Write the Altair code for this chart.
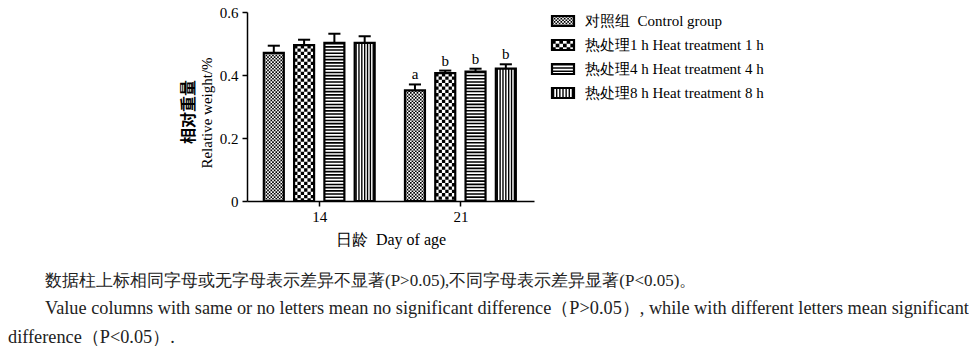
import altair as alt
import pandas as pd

# ---------------- data ----------------
days = ["14", "21"]
groups = [
    "对照组\u00a0 Control group",
    "热处理1 h Heat treatment 1 h",
    "热处理4 h Heat treatment 4 h",
    "热处理8 h Heat treatment 8 h",
]
patterns = ["fine", "checker", "hstripe", "vstripe"]
mean_14 = [0.470, 0.495, 0.502, 0.502]
mean_21 = [0.351, 0.406, 0.411, 0.420]
err_14 = [0.023, 0.017, 0.029, 0.021]
err_21 = [0.019, 0.008, 0.009, 0.014]
letters_14 = ["", "", "", ""]
letters_21 = ["a", "b", "b", "b"]
y_ticks = [0, 0.2, 0.4, 0.6]
y_title_cn = "相对重量"
y_title_en = "Relative weight/%"
x_title = "日龄\u00a0 Day of age"
caption_lines = [
    "数据柱上标相同字母或无字母表示差异不显著(P>0.05),不同字母表示差异显著(P<0.05)。",
    "Value columns with same or no letters mean no significant difference（P>0.05）, while with different letters mean significant",
    "difference（P<0.05）.",
]

# ---------------- layout parameters ----------------
W, H = 287, 189
GROUP_STEP = 4.66
HALF = 0.33
CAP = 0.2
XDOM = [-0.885, 8.59]
SX = W / (XDOM[1] - XDOM[0])
FONT = "Liberation Serif"

rows = []
for g, (day, means, errs, lets) in enumerate(
    zip(days, [mean_14, mean_21], [err_14, err_21], [letters_14, letters_21])
):
    for i, grp in enumerate(groups):
        pos = g * GROUP_STEP + i
        rows.append(dict(day=day, group=grp, pattern=patterns[i], pos=pos,
                         x0=pos - HALF, x1=pos + HALF,
                         c0=pos - CAP, c1=pos + CAP,
                         mean=means[i], top=means[i] + errs[i], zero=0.0,
                         letter=lets[i]))
bars = pd.DataFrame(rows)
centers = [g * GROUP_STEP + (len(groups) - 1) / 2 for g in range(len(days))]


def pattern_layers(rects, wpx, X, Y):
    """Vertical rules that fill each rectangle with its pattern."""
    layers = []
    specs = {"fine": 1.7, "checker": 3.4}
    for pat, cell in specs.items():
        n = max(1, round(wpx / cell))
        cpx = wpx / n
        for parity in (0, 1):
            recs = []
            for _, r in rects[rects.pattern == pat].iterrows():
                cw = (r.x1 - r.x0) / n
                for k in range(parity, n, 2):
                    recs.append(dict(x=r.x0 + (k + 0.5) * cw, ytop=r.ytop, ybot=r.ybot))
            if recs:
                layers.append(
                    alt.Chart(pd.DataFrame(recs)).mark_rule(
                        color="black", strokeWidth=cpx, strokeDash=[cpx, cpx],
                        strokeDashOffset=cpx * parity
                    ).encode(x=X("x"), y=Y("ytop"), y2=alt.Y2("ybot"))
                )
    # horizontal stripes
    recs = [dict(x=(r.x0 + r.x1) / 2, ytop=r.ytop, ybot=r.ybot)
            for _, r in rects[rects.pattern == "hstripe"].iterrows()]
    if recs:
        layers.append(
            alt.Chart(pd.DataFrame(recs)).mark_rule(
                color="black", strokeWidth=wpx, strokeDash=[1.6, 1.6]
            ).encode(x=X("x"), y=Y("ytop"), y2=alt.Y2("ybot"))
        )
    # vertical stripes
    n = max(1, round(wpx / 3.0))
    recs = []
    for _, r in rects[rects.pattern == "vstripe"].iterrows():
        cw = (r.x1 - r.x0) / n
        for k in range(n):
            recs.append(dict(x=r.x0 + (k + 0.5) * cw, ytop=r.ytop, ybot=r.ybot))
    if recs:
        layers.append(
            alt.Chart(pd.DataFrame(recs)).mark_rule(
                color="black", strokeWidth=1.4
            ).encode(x=X("x"), y=Y("ytop"), y2=alt.Y2("ybot"))
        )
    return layers


# ---------------- main chart ----------------
label_expr = " : ".join(
    [f"abs(datum.value - {c}) < 0.01 ? '{d}'" for c, d in zip(centers, days)]
) + " : ''"
axis_common = dict(domainColor="black", domainWidth=1.5, tickColor="black",
                   tickWidth=1.5, tickSize=5, labelColor="black", labelFont=FONT,
                   labelFontSize=15, grid=False, titleColor="black")
x_axis = alt.Axis(values=centers, labelExpr=label_expr, title=x_title,
                  labelPadding=3, titlePadding=7, titleFont=FONT,
                  titleFontSize=16, titleFontWeight="normal", **axis_common)
y_axis = alt.Axis(values=y_ticks, title=None, labelPadding=4,
                  labelExpr="datum.value == 0 ? '0' : format(datum.value, '.1f')",
                  **axis_common)
xs = alt.Scale(domain=XDOM, nice=False, zero=False)
ys = alt.Scale(domain=[0, 0.6], nice=False)


def MX(f):
    return alt.X(f"{f}:Q", scale=xs, axis=x_axis)


def MY(f):
    return alt.Y(f"{f}:Q", scale=ys, axis=y_axis)


base = alt.Chart(bars)
white = base.mark_rect(fill="white").encode(x=MX("x0"), x2="x1", y=MY("mean"), y2="zero")
prect = bars.assign(ytop=bars["mean"], ybot=0.0)
pats = pattern_layers(prect, 2 * HALF * SX, MX, MY)
outline = base.mark_rect(fillOpacity=0, stroke="black", strokeWidth=2.2).encode(
    x=MX("x0"), x2="x1", y=MY("mean"), y2="zero")
err = base.mark_rule(color="black", strokeWidth=2).encode(x=MX("pos"), y=MY("mean"), y2="top")
cap = base.mark_rule(color="black", strokeWidth=2).encode(x=MX("c0"), x2="c1", y=MY("top"))
letters = base.mark_text(font=FONT, fontSize=15, color="black", baseline="middle", dy=-10).encode(
    x=MX("pos"), y=MY("top"), text="letter:N")

ytitle_cn = alt.Chart(pd.DataFrame({"t": [y_title_cn]})).mark_text(
    font="Noto Sans CJK SC", fontSize=16, fontWeight="bold", angle=270,
    color="black", align="center", baseline="middle"
).encode(x=alt.value(-58), y=alt.value(100), text="t:N")
ytitle_en = alt.Chart(pd.DataFrame({"t": [y_title_en]})).mark_text(
    font="Liberation Serif", fontSize=15, angle=270,
    color="black", align="center", baseline="middle"
).encode(x=alt.value(-40), y=alt.value(101), text="t:N")

cap_pos = [(-202, 269), (-202, 297), (-239, 326)]
cap_size = [17, 18.3, 18.3]
caption_layers = [
    alt.Chart(pd.DataFrame({"t": [line]})).mark_text(
        font=FONT, fontSize=fs, color="#222222", align="left", baseline="middle"
    ).encode(x=alt.value(px), y=alt.value(py), text="t:N")
    for line, (px, py), fs in zip(caption_lines, cap_pos, cap_size)
]

main = alt.layer(white, *pats, outline, err, cap, letters,
                 ytitle_cn, ytitle_en, *caption_layers).properties(width=W, height=H)

# ---------------- legend ----------------
LW, LH = 230, 100
lrows = []
for r, (grp, pat) in enumerate(zip(groups, patterns)):
    yc = LH - (9 + 24 * r)
    lrows.append(dict(label=grp, pattern=pat, x0=0.0, x1=22.0, ytop=yc + 5,
                      ybot=yc - 5, yc=yc, tx=33.0))
leg = pd.DataFrame(lrows)
lxs = alt.Scale(domain=[0, LW], nice=False, zero=False)
lys = alt.Scale(domain=[0, LH], nice=False, zero=False)


def LX(f):
    return alt.X(f"{f}:Q", scale=lxs, axis=None)


def LY(f):
    return alt.Y(f"{f}:Q", scale=lys, axis=None)


lbase = alt.Chart(leg)
lwhite = lbase.mark_rect(fill="white").encode(x=LX("x0"), x2="x1", y=LY("ytop"), y2="ybot")
lpats = pattern_layers(leg, 22.0, LX, LY)
loutline = lbase.mark_rect(fillOpacity=0, stroke="black", strokeWidth=2.2).encode(
    x=LX("x0"), x2="x1", y=LY("ytop"), y2="ybot")
ltext = lbase.mark_text(font=FONT, fontSize=15, color="black", align="left",
                        baseline="middle").encode(x=LX("tx"), y=LY("yc"), text="label:N")
legend = alt.layer(lwhite, *lpats, loutline, ltext).properties(width=LW, height=LH)

chart = alt.hconcat(main, legend, spacing=18, bounds="flush").properties(
    padding={"left": 8, "top": 5, "right": 0, "bottom": 0}
).configure_view(stroke=None)

chart.save("out.html", embed_options={"renderer": "svg", "actions": False})
